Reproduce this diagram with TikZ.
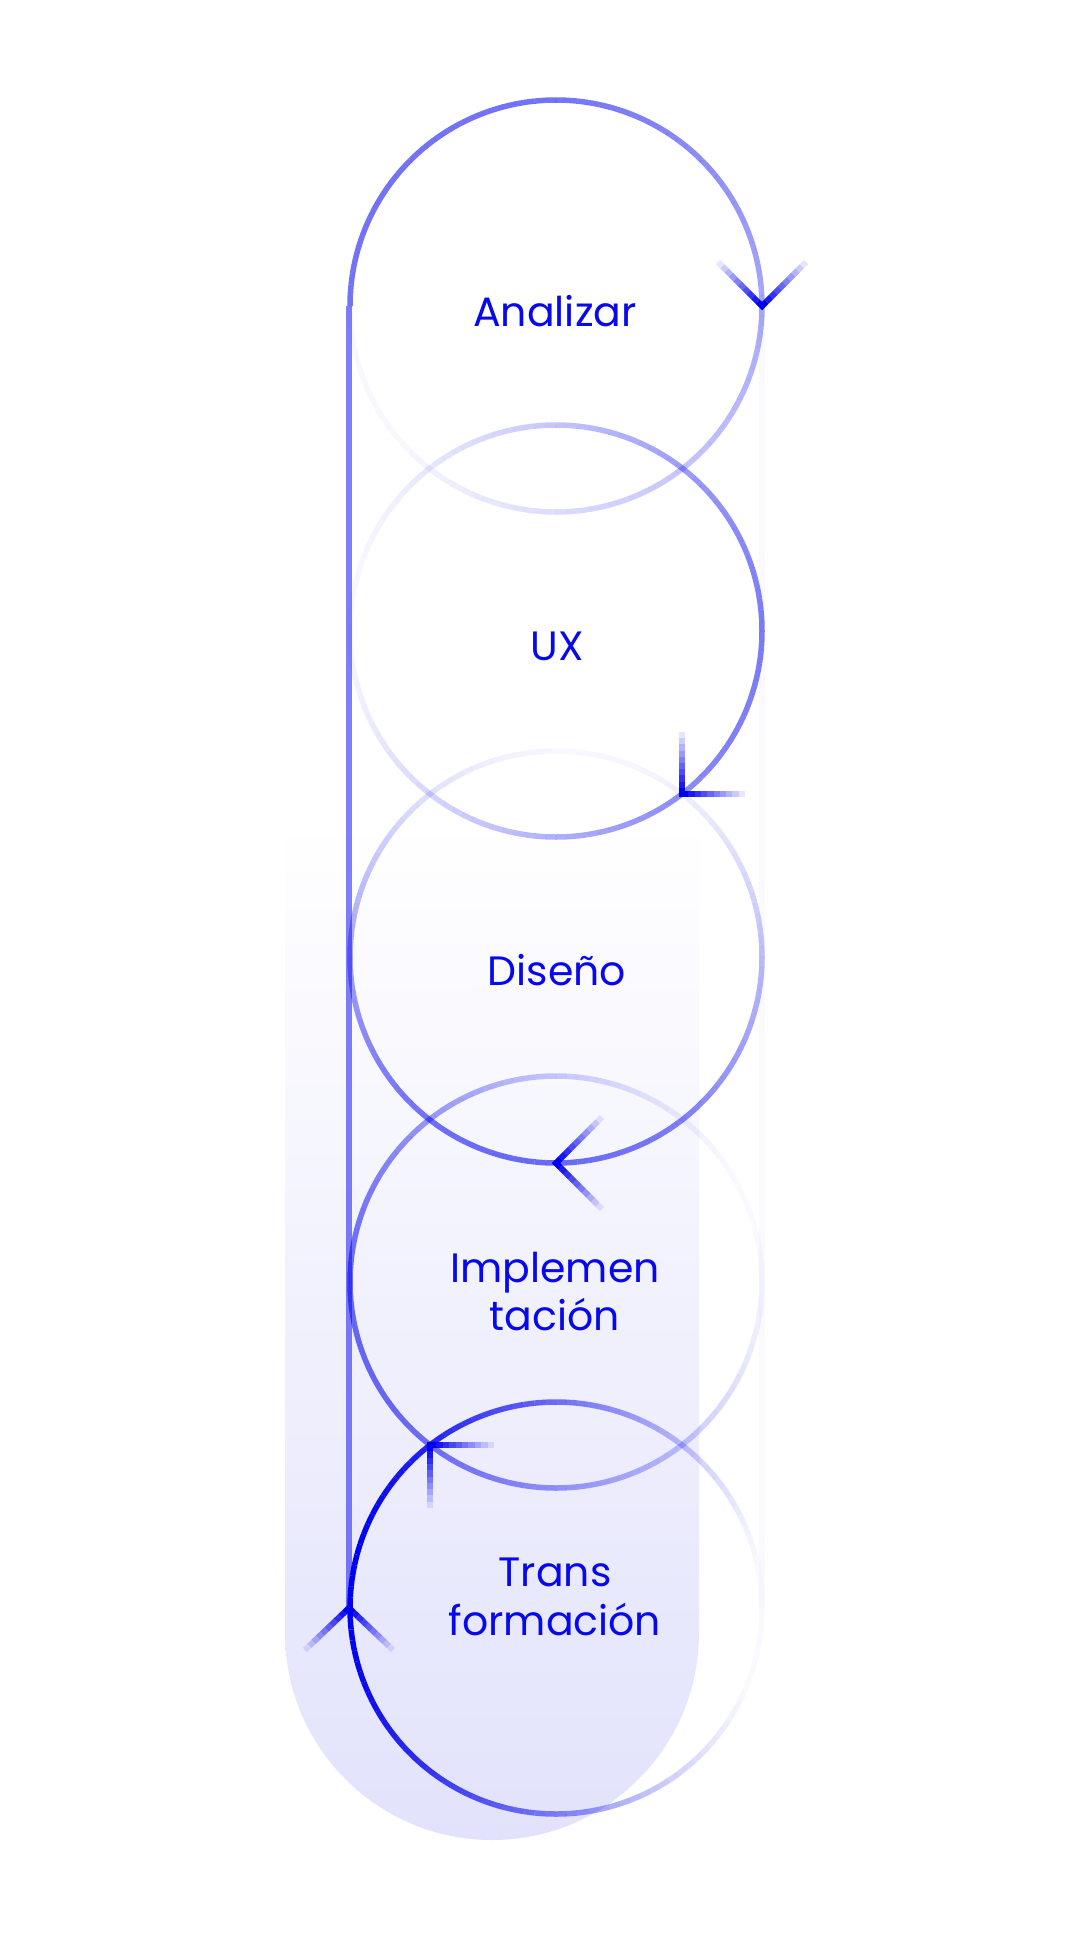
\documentclass[tikz,border=0pt]{standalone}
\usepackage{fontspec}
\setmainfont{Poppins}
\usetikzlibrary{calc}
\definecolor{lineblue}{RGB}{0,0,240}
\definecolor{txtblue}{RGB}{8,8,236}
\definecolor{lav}{RGB}{226,226,252}
\newcommand\gradarm[2]{%
  \foreach \i in {1,...,9}{%
    \pgfmathsetmacro\op{1-0.1*\i}%
    \pgfmathsetmacro\fa{\i/10}%
    \pgfmathsetmacro\fb{(\i+1)/10}%
    \draw[armline, draw opacity=\op] ($(#1)!\fa!(#2)$) -- ($(#1)!\fb!(#2)$);
  }}
\newcommand\mychev[3]{%
  \draw[armline, line join=miter] ($(#1)!0.1!(#2)$) -- (#1) -- ($(#1)!0.1!(#3)$);
  \gradarm{#1}{#2}\gradarm{#1}{#3}}
\begin{document}
\begin{tikzpicture}[x=1pt,y=1pt,
  ring/.style={line width=5.5pt, draw=lineblue},
  rail/.style={line width=6pt, draw=lineblue},
  armline/.style={line width=6pt, draw=lineblue},
  lbl/.style={font=\fontsize{41}{49}\selectfont, text=txtblue, inner sep=0pt, anchor=base}]
\useasboundingbox (0,0) rectangle (1090,-1938);
\fill[white] (0,0) rectangle (1090,-1938);
% centres
\coordinate (c1) at (556,-306);
\coordinate (c2) at (556,-631);
\coordinate (c3) at (556,-957);
\coordinate (c4) at (556,-1282);
\coordinate (c5) at (556,-1608);
% background capsule
\shade[top color=white, bottom color=lav] (285,-820) -- (285,-1633)
  arc[start angle=180, end angle=360, radius=207] -- (699,-820) -- cycle;
% rails
\coordinate (railtop) at (349,-306);
\coordinate (railbot) at (349,-1608);
\coordinate (rrailtop) at (762,-306);
\coordinate (rrailbot) at (762,-1608);
\draw[ring, draw opacity=0.018] (rrailtop) -- (rrailbot);
\draw[rail, draw opacity=0.5] (railtop) -- (railbot);
% circles with graded strokes
\foreach \a in {0,3,...,357}{%
  \pgfmathsetmacro\t{mod(540-(\a+1.5),360)}%
  \pgfmathsetmacro\op{\t<=90 ? 0.55 : max(0.03, 0.55-0.55*(\t-90)/240)}%
  \draw[ring, draw opacity=\op] ([shift={(\a:206)}]c1) arc[start angle=\a, end angle=\a+3, radius=206];
}
\foreach \a in {0,3,...,357}{%
  \pgfmathsetmacro\op{max(0.02,0.27+0.24*cos(\a+1.5+10))}%
  \draw[ring, draw opacity=\op] ([shift={(\a:206)}]c2) arc[start angle=\a, end angle=\a+3, radius=206];
}
\foreach \a in {0,3,...,357}{%
  \pgfmathsetmacro\op{max(0.02,0.3+0.27*cos(\a+1.5+100))}%
  \draw[ring, draw opacity=\op] ([shift={(\a:206)}]c3) arc[start angle=\a, end angle=\a+3, radius=206];
}
\foreach \a in {0,3,...,357}{%
  \pgfmathsetmacro\op{max(0.02,0.3+0.28*cos(\a+1.5-200))}%
  \draw[ring, draw opacity=\op] ([shift={(\a:206)}]c4) arc[start angle=\a, end angle=\a+3, radius=206];
}
\foreach \a in {0,3,...,357}{%
  \pgfmathsetmacro\op{max(0.02,0.5+0.5*cos(\a+1.5-175))}%
  \draw[ring, draw opacity=\op] ([shift={(\a:206)}]c5) arc[start angle=\a, end angle=\a+3, radius=206];
}
% arrow heads
\coordinate (a1) at (762,-306);  \coordinate (a1l) at (718,-262);  \coordinate (a1r) at (806,-262);
\coordinate (a2) at (682,-794);  \coordinate (a2u) at (682,-732);  \coordinate (a2r) at (745,-794);
\coordinate (a3) at (556,-1163); \coordinate (a3u) at (602,-1117); \coordinate (a3d) at (602,-1209);
\coordinate (a4) at (430,-1445); \coordinate (a4r) at (494,-1445); \coordinate (a4d) at (430,-1508);
\coordinate (a5) at (349,-1608); \coordinate (a5l) at (305,-1650); \coordinate (a5r) at (393,-1650);
\mychev{a1}{a1l}{a1r}
\mychev{a2}{a2u}{a2r}
\mychev{a3}{a3u}{a3d}
\mychev{a4}{a4r}{a4d}
\mychev{a5}{a5l}{a5r}
% labels
\node[lbl] (analizar) at (555,-326) {Analizar};
\node[lbl] (ux) at (557,-660) {UX};
\node[lbl] (diseno) at (557,-985) {Diseño};
\node[lbl] (impl1) at (555,-1282) {Implemen};
\node[lbl] (impl2) at (555,-1330) {tación};
\node[lbl] (trans1) at (555,-1586) {Trans};
\node[lbl] (trans2) at (555,-1635) {formación};
\end{tikzpicture}
\end{document}
